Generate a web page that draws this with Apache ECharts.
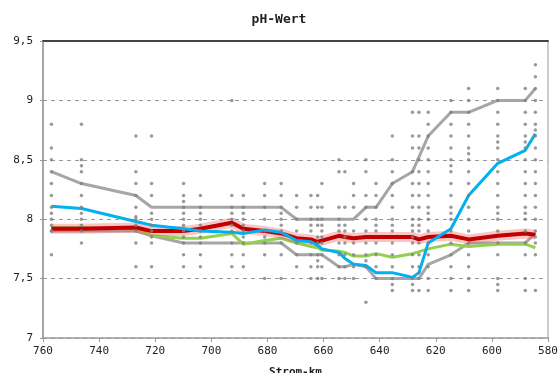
<!DOCTYPE html>
<html><head><meta charset="utf-8">
<script src="https://cdn.jsdelivr.net/npm/echarts@6/dist/echarts.min.js"></script>
<style>html,body{margin:0;padding:0;background:#fff}#c{width:558px;height:373px}</style>
</head><body><div id="c"></div>
<script>
// Strom-km of the sampling stations
const stations = [757.0,746.3,726.9,721.3,709.9,703.9,692.7,688.6,681.0,675.1,669.6,664.5,662.1,660.6,654.5,652.4,649.3,644.9,641.3,635.5,628.3,626.0,622.7,614.6,608.3,597.9,588.1,584.5];
// single pH measurements at each station
const phSamples = [
  [8.8,8.6,8.5,8.4,8.3,8.2,8.1,8.05,8.0,7.95,7.9,7.9,7.7],
  [8.8,8.5,8.45,8.4,8.3,8.2,8.1,8.05,8.0,7.95,7.9,7.8],
  [8.7,8.4,8.3,8.2,8.1,8.02,8.0,7.95,7.9,7.8,7.6],
  [8.7,8.3,8.2,8.05,8.0,7.95,7.9,7.85,7.8,7.6],
  [8.3,8.2,8.15,8.1,8.05,8.0,7.95,7.9,7.85,7.8,7.7,7.6],
  [8.2,8.1,8.05,8.0,7.95,7.9,7.85,7.8,7.7,7.6],
  [9.0,8.2,8.1,8.05,8.0,7.95,7.9,7.8,7.7,7.6],
  [8.2,8.1,8.05,8.0,7.95,7.9,7.85,7.8,7.7,7.6],
  [8.3,8.2,8.1,8.0,7.9,7.85,7.8,7.7,7.5],
  [8.3,8.2,8.1,8.05,8.0,7.95,7.9,7.8,7.7,7.5],
  [8.2,8.1,8.0,7.9,7.8,7.7,7.6],
  [8.2,8.1,8.0,7.95,7.9,7.8,7.7,7.6,7.5],
  [8.2,8.1,8.0,7.95,7.85,7.8,7.7,7.65,7.6,7.5],
  [8.3,8.1,8.0,7.95,7.9,7.85,7.8,7.7,7.6,7.5],
  [8.5,8.4,8.1,8.0,7.95,7.9,7.8,7.7,7.6,7.5],
  [8.4,8.1,7.95,7.9,7.85,7.8,7.7,7.6,7.5],
  [8.3,8.2,8.1,7.9,7.8,7.7,7.6,7.5],
  [8.5,8.4,8.2,8.1,8.0,7.9,7.8,7.7,7.65,7.6,7.3],
  [8.3,8.2,8.1,8.0,7.95,7.9,7.8,7.7,7.6,7.5],
  [8.7,8.5,8.4,8.3,8.2,8.1,8.0,7.95,7.9,7.8,7.7,7.6,7.5,7.45,7.4],
  [8.9,8.7,8.6,8.4,8.3,8.2,8.1,8.0,7.95,7.9,7.85,7.8,7.7,7.6,7.5,7.45,7.4],
  [8.9,8.7,8.6,8.5,8.4,8.3,8.2,8.1,8.0,7.95,7.9,7.8,7.7,7.6,7.55,7.5,7.4],
  [8.9,8.8,8.7,8.6,8.5,8.4,8.3,8.2,8.1,8.05,8.0,7.9,7.8,7.7,7.6,7.5,7.4],
  [9.0,8.9,8.8,8.7,8.6,8.5,8.45,8.4,8.3,8.2,8.1,8.05,8.0,7.9,7.8,7.7,7.6,7.5,7.4],
  [9.1,9.0,8.9,8.8,8.7,8.6,8.55,8.5,8.4,8.3,8.2,8.1,8.0,7.9,7.8,7.7,7.6,7.5,7.4],
  [9.1,9.0,8.9,8.8,8.7,8.65,8.6,8.5,8.4,8.3,8.2,8.1,8.05,8.0,7.9,7.8,7.7,7.5,7.45,7.4],
  [9.1,9.0,8.9,8.8,8.7,8.65,8.6,8.5,8.4,8.3,8.2,8.1,8.05,8.0,7.9,7.8,7.7,7.5,7.4],
  [9.3,9.2,9.1,9.0,8.9,8.8,8.75,8.7,8.6,8.5,8.4,8.3,8.2,8.1,8.0,7.9,7.85,7.8,7.7,7.4]
];
// envelope and statistic lines (null = no vertex at that station)
const upperLine = [8.4,8.3,8.2,8.1,8.1,8.1,8.1,8.1,8.1,8.1,8.0,8.0,8.0,8.0,8.0,8.0,8.0,8.1,8.1,8.3,8.4,null,8.7,8.9,8.9,9.0,9.0,9.1];
const lowerLine = [7.9,7.9,7.9,7.86,7.8,7.8,7.8,7.8,7.8,7.8,7.7,7.7,7.7,7.7,7.6,7.6,7.62,7.6,7.5,7.5,7.5,7.5,7.62,7.7,7.8,7.8,7.8,7.88];
const blueLine  = [8.11,8.09,7.98,7.95,7.92,7.90,7.89,7.88,7.91,7.89,7.82,7.81,7.78,7.75,7.72,7.67,7.62,7.61,7.55,7.55,7.51,7.55,7.80,7.92,8.20,8.47,8.58,8.72];
const redLine   = [7.92,7.92,7.93,7.90,7.90,7.92,7.97,7.92,7.90,7.88,7.84,7.83,7.81,7.82,7.86,7.85,7.84,7.85,7.85,7.85,7.85,7.83,7.85,7.86,7.83,7.86,7.88,7.87];
const greenLine = [7.93,7.93,7.92,7.86,7.84,7.84,7.88,7.79,7.82,7.84,7.80,7.77,7.76,7.74,7.73,7.72,7.69,7.69,7.71,7.68,7.71,null,7.75,7.79,7.77,7.79,7.79,7.76];
const xTicks = {min: 580, max: 760, step: 20};
const yTicks = {min: 7, max: 9.5, step: 0.5};

const pair = arr => stations.map((k, i) => [k, arr[i]]);
const scatterData = [];
stations.forEach((k, i) => phSamples[i].forEach(v => scatterData.push([k, v])));

const FONT = 'DejaVu Sans Mono';
const chart = echarts.init(document.getElementById('c'), null, {renderer: 'canvas'});
const lineS = (name, arr, color, width, z) => ({
  name, type: 'line', data: pair(arr), connectNulls: true, showSymbol: false, symbol: 'none',
  lineStyle: {color, width}, z, silent: true, animation: false
});
chart.setOption({
  animation: false,
  title: {text: 'pH-Wert', left: 'center', top: 8,
    textStyle: {fontFamily: FONT, fontSize: 13, fontWeight: 'bold', color: '#222'}},
  grid: {left: 43, right: 10, top: 41, bottom: 35, containLabel: false, outerBoundsMode: 'none'},
  xAxis: [{
    type: 'value', inverse: true, min: xTicks.min, max: xTicks.max, interval: xTicks.step,
    name: 'Strom-km', nameLocation: 'middle', nameGap: 29,
    nameTextStyle: {fontFamily: FONT, fontSize: 11, fontWeight: 'bold', color: '#222'},
    axisLine: {lineStyle: {color: '#999', width: 1.5}},
    axisTick: {show: true, length: 4, lineStyle: {color: '#999'}},
    axisLabel: {fontFamily: FONT, fontSize: 11, color: '#222', margin: 8},
    splitLine: {show: false}
  }, {
    type: 'value', position: 'top', inverse: true, min: xTicks.min, max: xTicks.max,
    axisLine: {lineStyle: {color: '#444', width: 2}}, axisTick: {show: false},
    axisLabel: {show: false}, splitLine: {show: false}
  }],
  yAxis: [{
    type: 'value', min: yTicks.min, max: yTicks.max, interval: yTicks.step,
    axisLine: {show: true, lineStyle: {color: '#888', width: 1.5}},
    axisTick: {show: true, length: 3, lineStyle: {color: '#999'}},
    axisLabel: {fontFamily: FONT, fontSize: 11, color: '#222', margin: 10,
      formatter: v => String(v).replace('.', ',')},
    splitLine: {show: true, lineStyle: {color: '#999', type: [4, 4], width: 1}}
  }, {
    type: 'value', position: 'right', min: yTicks.min, max: yTicks.max,
    axisLine: {show: true, lineStyle: {color: '#bbb', width: 1.5}}, axisTick: {show: false},
    axisLabel: {show: false}, splitLine: {show: false}
  }],
  series: [
    lineS('upper', upperLine, '#a6a6a6', 3, 2),
    lineS('lower', lowerLine, '#a6a6a6', 3, 2),
    lineS('green', greenLine, '#92d050', 3, 3),
    lineS('redGlow', redLine, 'rgba(240,90,90,0.35)', 10, 4),
    lineS('red', redLine, '#c00000', 4, 5),
    lineS('blue', blueLine, '#00b0f0', 3, 6),
    {type: 'scatter', data: scatterData, symbolSize: 3.5, z: 10, silent: true,
     itemStyle: {color: '#808080'}}
  ]
});
</script>
</body></html>
